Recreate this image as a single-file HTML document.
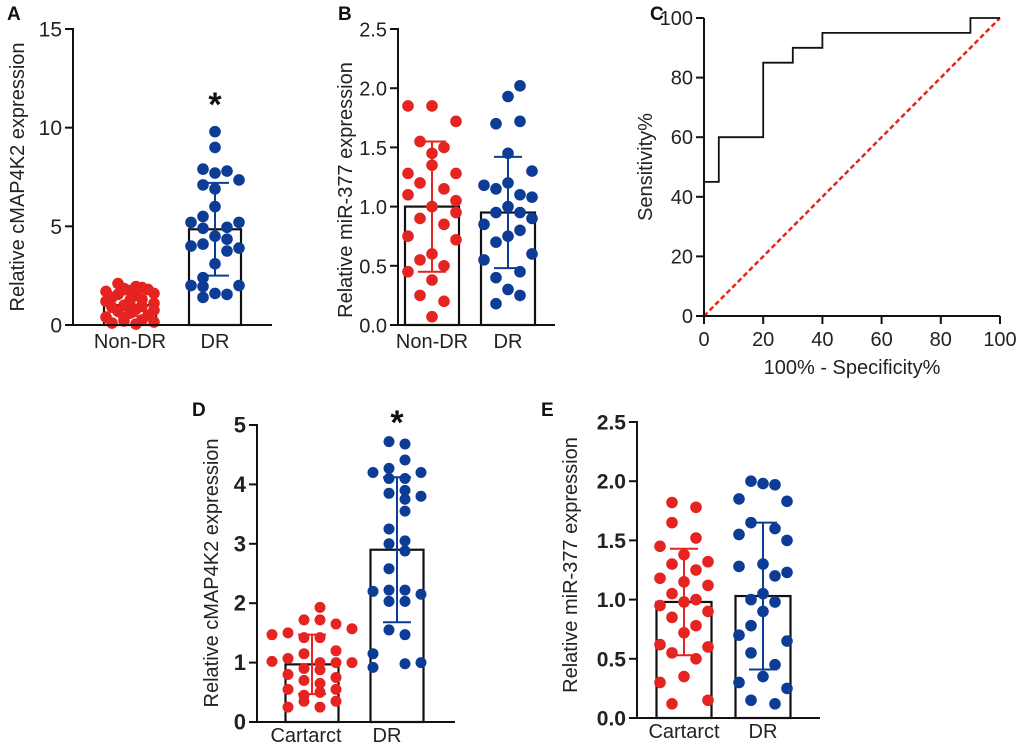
<!DOCTYPE html>
<html><head><meta charset="utf-8"><style>
body{margin:0;background:#fff;}
svg{display:block;font-family:"Liberation Sans",Arial,sans-serif;}
</style></head><body>
<svg id="fig" width="1020" height="744" viewBox="0 0 1020 744"></svg>
<script>
// Panel A
const aCats=["Non-DR","DR"];
const aMeans=[1.0,4.85];
const aSD=[0.55,2.35];
const aNonVals=[2.1,1.95,1.9,1.85,1.8,1.75,1.7,1.6,1.55,1.5,1.4,1.3,1.25,1.2,1.1,1.0,0.95,0.9,0.8,0.75,0.7,0.6,0.5,0.4,0.35,0.25,0.15,0.1,0.05,0.2];
const aNonCols=[-1,0.5,1,-0.5,1.5,0,-2,2,-1,0.5,-1.5,1,0,-2,2,-0.5,1,-1.5,0.5,2,-1,0,1.5,-2,-0.5,1,2,-1.5,0.5,-0.5];
const aDRVals=[9.8,9.0,7.9,7.7,7.8,7.35,7.1,6.9,6.0,5.2,5.5,4.9,5.2,4.95,4.5,4.35,4.0,4.1,3.9,3.75,3.1,2.4,2.0,2.0,1.95,1.6,1.55,1.4];
const aDRCols=[0,0,-1,0,1,2,-1,0,0,-2,-1,-1,2,1,0,1,-2,-1,2,1,0,-1,-2,2,-1,0,1,-1];
const aTicks=[0,5,10,15];
// Panel B
const bCats=["Non-DR","DR"];
const bMeans=[1.0,0.95];
const bSD=[0.55,0.47];
const bNonVals=[1.85,1.85,1.72,1.55,1.5,1.35,1.28,1.2,1.15,1.1,1.05,1.0,0.9,0.85,0.75,0.72,0.6,0.55,0.5,0.38,0.25,0.2,0.07,1.28,0.95,0.45,1.45];
const bNonCols=[-2,0,2,-1,1,0,2,-1,1,-2,2,0,-1,1,-2,2,0,-1,1,0,-1,1,0,-2,2,-2,0];
const bDRVals=[2.02,1.93,1.72,1.7,1.45,1.3,1.18,1.15,1.1,1.08,1.0,0.95,0.9,0.85,0.8,0.75,0.7,0.6,0.55,0.45,0.4,0.3,0.18,0.25,0.95,1.2];
const bDRCols=[1,0,1,-1,0,2,-2,-1,1,2,0,-1,2,-2,1,0,-1,2,-2,1,-1,0,-1,1,1,0];
const bTicks=[0,0.5,1.0,1.5,2.0,2.5];
// Panel C (ROC)
const cFPR=[0,5,5,20,20,30,30,40,40,90,90,100];
const cTPR=[45,45,60,60,85,85,90,90,95,95,100,100];
const cTicks=[0,20,40,60,80,100];
// Panel D
const dCats=["Cartarct","DR"];
const dMeans=[0.97,2.9];
const dSD=[0.5,1.22];
const dCatVals=[1.93,1.72,1.72,1.65,1.57,1.47,1.5,1.42,1.42,1.2,1.15,1.02,1.07,1.0,1.0,1.0,0.9,0.88,0.8,0.75,0.7,0.65,0.55,0.55,0.5,0.45,0.35,0.35,0.25,0.25];
const dCatCols=[0.5,-0.5,0.5,1.5,2.5,-2.5,-1.5,-0.5,0.5,1.5,-0.5,-2.5,-1.5,0.5,1.5,2.5,-0.5,0.5,-1.5,1.5,-0.5,0.5,-1.5,1.5,0.5,-0.5,-0.5,1.5,-1.5,0.5];
const dDRVals=[4.72,4.68,4.41,4.2,4.27,4.2,4.1,4.1,3.9,3.85,3.8,3.75,3.55,3.25,3.05,3.0,2.88,2.58,2.2,2.22,2.22,2.15,2.03,2.03,1.55,1.47,1.15,0.92,0.98,1.0];
const dDRCols=[-0.5,0.5,0.5,-1.5,-0.5,1.5,-0.5,0.5,0.5,-0.5,1.5,0.5,0.5,-0.5,0.5,-0.5,0.5,-0.5,-1.5,-0.5,0.5,1.5,-0.5,0.5,-0.5,0.5,-1.5,-1.5,0.5,1.5];
const dTicks=[0,1,2,3,4,5];
// Panel E
const eCats=["Cartarct","DR"];
const eMeans=[0.98,1.03];
const eSD=[0.45,0.62];
const eCatVals=[1.82,1.78,1.65,1.52,1.45,1.38,1.32,1.3,1.25,1.18,1.15,1.12,1.05,1.0,0.98,0.95,0.9,0.85,0.78,0.72,0.62,0.6,0.55,0.5,0.35,0.3,0.15,0.12];
const eCatCols=[-1,1,-1,1,-2,0,2,-1,1,-2,0,2,-1,1,0,-2,2,-1,1,0,-2,2,-1,1,0,-2,2,-1];
const eDRVals=[2.0,1.98,1.97,1.85,1.83,1.65,1.6,1.55,1.5,1.3,1.28,1.23,1.2,1.0,0.98,0.9,0.7,0.65,0.55,0.45,0.35,0.3,0.25,0.15,0.12,1.05,0.78];
const eDRCols=[-1,0,1,-2,2,-1,1,-2,2,0,-2,2,1,-1,1,0,-2,2,-1,1,0,-2,2,-1,1,0,-1];
const eTicks=[0,0.5,1.0,1.5,2.0,2.5];

const NS="http://www.w3.org/2000/svg";
const svg=document.getElementById('fig');
function mk(tag,attrs,parent){const e=document.createElementNS(NS,tag);for(const k in attrs)e.setAttribute(k,attrs[k]);(parent||svg).appendChild(e);return e;}
function txt(s,attrs,parent){const e=mk('text',attrs,parent);e.textContent=s;return e;}
const RED="#e52320",BLUE="#0c3c96";

function panel(p){
  const g=mk('g',{});
  
  
  const y=v=>p.y0-(v-p.ticks[0])/(p.ticks[p.ticks.length-1]-p.ticks[0])*(p.y0-p.yTop);
  const fw=p.bold?'bold':'normal';
  p.cats.forEach((c,i)=>{
    const cx=p.centers[i];
    const b=mk('rect',{x:cx-p.bw/2,y:y(p.means[i]),width:p.bw,height:p.y0-y(p.means[i]),fill:'none',stroke:'#111','stroke-width':2.2},g);
    
    
  });
  const groups=[[p.v0,p.c0,RED],[p.v1,p.c1,BLUE]];
  groups.forEach((gr,i)=>{
    gr[0].forEach((v,j)=>{
      const d=mk('circle',{cx:p.centers[i]+gr[1][j]*p.colW,cy:y(v),r:p.r,fill:gr[2]},g);
      
      
    });
  });
  p.cats.forEach((c,i)=>{
    const cx=p.centers[i],col=i?BLUE:RED;
    const eg=mk('g',{stroke:col,'stroke-width':2},g);
    
    
    const hi=y(p.means[i]+p.sd[i]),lo=y(p.means[i]-p.sd[i]);
    mk('line',{x1:cx,x2:cx,y1:hi,y2:lo},eg);
    mk('line',{x1:cx-14,x2:cx+14,y1:hi,y2:hi},eg);
    mk('line',{x1:cx-14,x2:cx+14,y1:lo,y2:lo},eg);
  });
  const ax=mk('g',{stroke:'#111','stroke-width':2},g);
  
  
  mk('line',{x1:p.ax,x2:p.ax,y1:p.yTop-1,y2:p.y0+1},ax);
  mk('line',{x1:p.ax-8,x2:p.xEnd,y1:p.y0,y2:p.y0},ax);
  p.ticks.forEach(t=>{
    mk('line',{x1:p.ax-8,x2:p.ax,y1:y(t),y2:y(t)},ax);
    const l=txt(p.fmt(t),{x:p.ax-11,y:y(t)+7.5,'text-anchor':'end','font-size':p.fs,'font-weight':fw,fill:'#222'},g);
    
    
  });
  p.cats.forEach((c,i)=>{
    const l=txt(c,{x:p.centers[i]+(p.labOff?p.labOff[i]:0),y:p.y0+(p.labY||23),'text-anchor':'middle','font-size':p.cfs,fill:'#222'},g);
    
    
  });
  const t=txt(p.title,{x:0,y:0,'text-anchor':'middle','font-size':p.tfs,fill:'#222',transform:`translate(${p.tx},${p.ty}) rotate(-90)`},g);
  
  
  const L=txt(p.letter,{x:p.lx,y:p.ly,'font-size':19,'font-weight':'bold',fill:'#111'},g);
  
  
  if(p.star){const s=txt('*',{x:p.centers[1],y:y(p.star)+4,'text-anchor':'middle','font-size':34,'font-weight':'bold',fill:'#111'},g);
    }
}

panel({name:'panel-a',letter:'A',lx:7,ly:20,cats:aCats,means:aMeans,sd:aSD,v0:aNonVals,c0:aNonCols,v1:aDRVals,c1:aDRCols,ticks:aTicks,
 fmt:t=>String(t),y0:325,yTop:29,ax:73,xEnd:272,centers:[130,215],bw:52,colW:12,r:5.8,fs:21,cfs:20,tfs:20,title:'Relative cMAP4K2 expression',tx:24,ty:177,star:10.8});
panel({name:'panel-b',letter:'B',lx:338,ly:20,cats:bCats,means:bMeans,sd:bSD,v0:bNonVals,c0:bNonCols,v1:bDRVals,c1:bDRCols,ticks:bTicks,
 fmt:t=>t.toFixed(1),y0:325,yTop:29,ax:398,xEnd:555,centers:[432,508],bw:54,colW:12,r:5.8,fs:20,cfs:20,tfs:20,title:'Relative miR-377 expression',tx:352,ty:190});
panel({name:'panel-d',letter:'D',lx:192,ly:416,cats:dCats,means:dMeans,sd:dSD,v0:dCatVals,c0:dCatCols,v1:dDRVals,c1:dDRCols,ticks:dTicks,
 fmt:t=>String(t),y0:722,yTop:425,ax:257,xEnd:455,centers:[312,397],bw:53,colW:16,r:5.5,fs:22,cfs:20,tfs:20,bold:true,labOff:[-6,-10],labY:20,title:'Relative cMAP4K2 expression',tx:218,ty:573,star:4.92});
panel({name:'panel-e',letter:'E',lx:541,ly:416,cats:eCats,means:eMeans,sd:eSD,v0:eCatVals,c0:eCatCols,v1:eDRVals,c1:eDRCols,ticks:eTicks,
 fmt:t=>t.toFixed(1),y0:718,yTop:422,ax:637,xEnd:820,centers:[684,763],bw:55,colW:12,r:5.8,fs:21,cfs:20,tfs:20,bold:true,labY:20,title:'Relative miR-377 expression',tx:577,ty:565});

// Panel C
(function(){
  const g=mk('g',{});
  
  
  const x0=704,x1=1000,y0=316,y1=18;
  const X=v=>x0+v/100*(x1-x0),Y=v=>y0-v/100*(y0-y1);
  const ref=mk('line',{x1:X(0),y1:Y(0),x2:X(100),y2:Y(100),stroke:'#e52320','stroke-width':2.5,'stroke-dasharray':'5,3'},g);
  
  const pts=cFPR.map((f,i)=>X(f)+','+Y(cTPR[i])).join(' ');
  const roc=mk('polyline',{points:pts,fill:'none',stroke:'#111','stroke-width':1.8},g);
  
  const ax=mk('g',{stroke:'#111','stroke-width':2},g);
  
  mk('line',{x1:x0,x2:x0,y1:y1,y2:y0+8},ax);
  mk('line',{x1:x0-8,x2:x1,y1:y0,y2:y0},ax);
  cTicks.forEach(t=>{
    mk('line',{x1:x0-8,x2:x0,y1:Y(t),y2:Y(t)},ax);
    mk('line',{x1:X(t),x2:X(t),y1:y0,y2:y0+8},ax);
    const a=txt(String(t),{x:x0-11,y:Y(t)+7,'text-anchor':'end','font-size':20,fill:'#222'},g);
    
    const b=txt(String(t),{x:X(t),y:y0+30,'text-anchor':'middle','font-size':20,fill:'#222'},g);
    
  });
  const xt=txt('100% - Specificity%',{x:852,y:374,'text-anchor':'middle','font-size':20,fill:'#222'},g);
  
  const yt=txt('Sensitivity%',{x:0,y:0,'text-anchor':'middle','font-size':20,fill:'#222',transform:'translate(652,167) rotate(-90)'},g);
  
  const L=txt('C',{x:650,y:20,'font-size':19,'font-weight':'bold',fill:'#111'},g);
  
})();
</script>
</body></html>
